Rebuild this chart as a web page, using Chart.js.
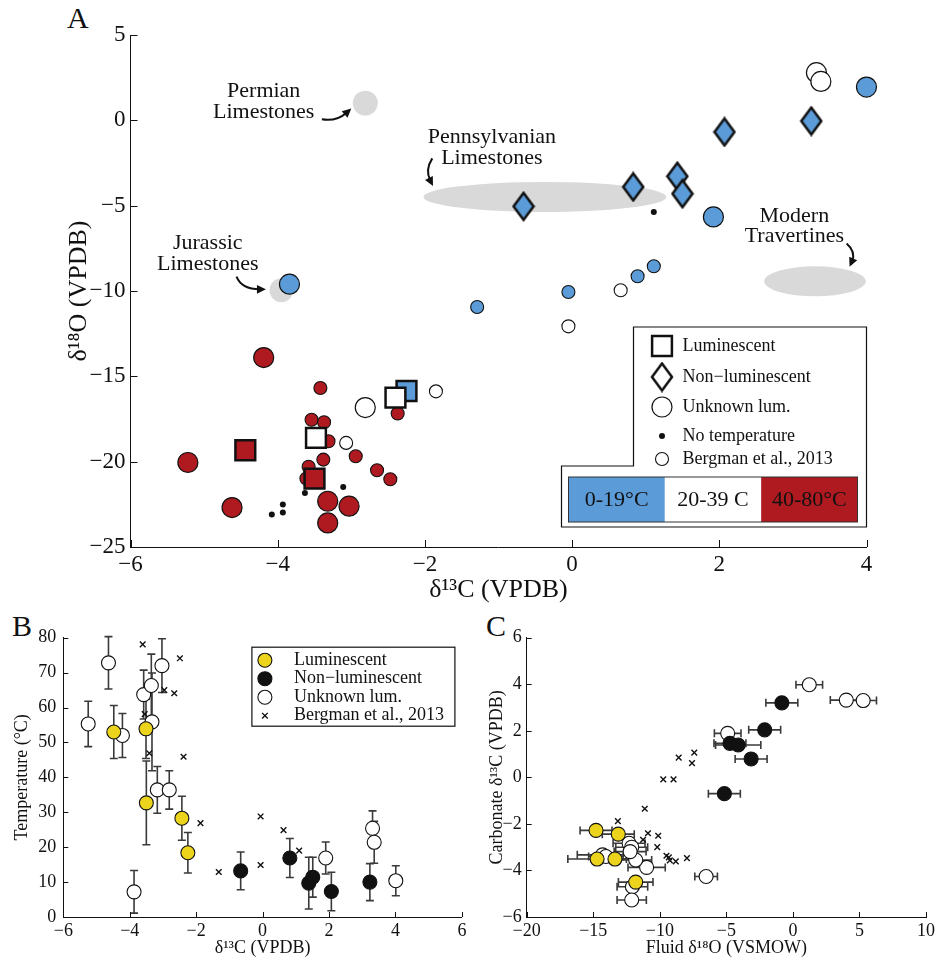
<!DOCTYPE html>
<html>
<head>
<meta charset="utf-8">
<script src="https://cdn.jsdelivr.net/npm/chart.js@4.4.0/dist/chart.umd.min.js"></script>
<style>
body { margin: 0; background: #fff; width: 938px; height: 960px; position: relative; overflow: hidden; font-family: 'Liberation Serif', serif; }
canvas { position: absolute; }
.panel { position: absolute; font-size: 30px; color: #111; line-height: 1; }
</style>
</head>
<body>
<div class="panel" style="left:67px;top:3px">A</div>
<div class="panel" style="left:12px;top:611px">B</div>
<div class="panel" style="left:486px;top:611px">C</div>
<canvas id="chartA" width="938" height="610" style="left:0;top:0"></canvas>
<canvas id="chartB" width="470" height="350" style="left:0;top:610px"></canvas>
<canvas id="chartC" width="468" height="350" style="left:470px;top:610px"></canvas>
<script>
var BLUE = '#5b9bd7', RED = '#ae1a20', YEL = '#ecd41c', GRAY = '#d9d9d9', INK = '#111111';
var SERIF = "'Liberation Serif', 'DejaVu Serif', serif";

// ---- panel A: d13C vs d18O (VPDB), [x, y] ----
var aLumBlue = [[-2.25, -15.86]];
var aLumWhite = [[-2.40, -16.25], [-3.48, -18.61]];
var aLumRed = [[-4.44, -19.33], [-3.50, -20.99]];
var aNonLumBlue = [[-0.66, -5.04], [0.83, -3.90], [1.43, -3.28], [1.50, -4.30], [2.07, -0.68], [3.25, -0.04]];
var aUnkBlue = [[-3.84, -9.60], [1.92, -5.66], [4.00, 1.95]];
var aUnkWhite = [[3.32, 2.79], [3.38, 2.28], [-2.81, -16.83]];
var aUnkRed = [[-4.19, -13.90], [-5.22, -20.05], [-3.32, -22.32], [-3.03, -22.61], [-4.62, -22.69], [-3.32, -23.59]];
var aNoTemp = [[1.11, -5.37], [-3.11, -21.48], [-3.63, -21.83], [-3.93, -22.51], [-3.93, -22.98], [-4.08, -23.10]];
var aBergBlue = [[-1.29, -10.94], [-0.05, -10.06], [0.89, -9.14], [1.11, -8.55]];
var aBergWhite = [[0.66, -9.96], [-0.05, -12.07], [-1.85, -15.88], [-3.07, -18.90]];
var aBergRed = [[-3.42, -15.68], [-2.37, -17.18], [-3.54, -17.54], [-3.37, -17.69], [-3.31, -18.80], [-2.94, -19.68],
  [-3.38, -19.88], [-3.58, -20.30], [-3.61, -20.99], [-2.65, -20.50], [-2.47, -21.03]];
// literature fields: centre x, centre y, half width, half height
var aFields = [[-2.81, 1.01, 0.17, 0.73], [-3.95, -9.96, 0.16, 0.70], [-0.37, -4.49, 1.65, 0.88], [3.30, -9.43, 0.69, 0.88]];
var aFieldNames = [['Permian', 'Limestones'], ['Jurassic', 'Limestones'], ['Pennsylvanian', 'Limestones'], ['Modern', 'Travertines']];
var tempBins = ['0-19\u00b0C', '20-39 C', '40-80\u00b0C'];

// ---- panel B: d13C vs temperature, [x, T, err] ----
var bLum = [[-4.48, 53.0, 7.6], [-3.51, 53.9, 8.5], [-3.50, 32.7, 12.0], [-2.43, 28.3, 6.3], [-2.25, 18.4, 5.8]];
var bNonLum = [[-0.66, 13.2, 5.4], [0.82, 16.9, 5.6], [1.39, 9.7, 7.4], [1.51, 11.4, 5.7], [2.07, 7.3, 5.5], [3.23, 10.0, 5.3]];
var bUnk = [[-5.25, 55.3, 6.5], [-4.64, 72.8, 7.5], [-4.22, 52.0, 6.3], [-3.87, 7.2, 6.1], [-3.58, 63.7, 7.0], [-3.35, 66.3, 9.0],
  [-3.33, 55.9, 14.0], [-3.03, 72.0, 7.7], [-3.17, 36.4, 6.7], [-2.81, 36.4, 5.5], [1.90, 16.9, 4.6], [3.31, 25.4, 5.0],
  [3.36, 21.4, 6.0], [4.01, 10.4, 4.3]];
var bBerg = [[-3.61, 78.1], [-2.49, 74.1], [-2.96, 65.0], [-2.66, 64.1], [-3.55, 58.1], [-3.41, 46.9], [-2.38, 45.9],
  [-1.87, 26.9], [-1.32, 12.9], [-0.06, 28.8], [-0.06, 14.9], [0.63, 24.9], [1.10, 19.0]];

// ---- panel C: fluid d18O (VSMOW) vs carbonate d13C, [x, y, xerr] ----
var cLum = [[-14.79, -2.28, 1.2], [-13.12, -2.44, 1.2], [-14.71, -3.51, 2.2], [-13.37, -3.51, 1.5], [-11.81, -4.50, 1.3]];
var cNonLum = [[-0.83, 3.20, 1.2], [-2.12, 2.04, 1.2], [-4.73, 1.46, 1.2], [-4.11, 1.39, 1.7], [-3.14, 0.79, 1.2], [-5.15, -0.70, 1.2]];
var cUnk = [[1.23, 3.98, 1.0], [4.01, 3.32, 1.2], [5.28, 3.30, 1.0], [-4.90, 1.89, 1.0], [-6.52, -4.26, 0.85], [-10.99, -3.87, 1.4],
  [-11.81, -3.55, 1.2], [-12.31, -2.83, 1.2], [-12.11, -3.00, 1.2], [-12.23, -3.19, 1.2], [-14.30, -3.33, 1.9], [-14.05, -3.40, 1.3],
  [-12.06, -4.70, 1.15], [-12.11, -5.27, 1.1]];
var cBerg = [[-7.41, 1.06], [-8.58, 0.85], [-7.58, 0.61], [-9.74, -0.09], [-8.97, -0.09], [-11.13, -1.35], [-13.15, -1.88],
  [-10.89, -2.40], [-10.12, -2.51], [-11.26, -2.68], [-10.19, -3.00], [-9.50, -3.37], [-9.32, -3.44], [-9.25, -3.57],
  [-8.80, -3.61], [-7.96, -3.47]];

Chart.defaults.font.family = SERIF;
Chart.defaults.color = INK;

function pts(arr) { return arr.map(function (p) { return {x: p[0], y: p[1]}; }); }
function errs(arr) { return arr.map(function (p) { return p[2]; }); }
function minus(v) { return String(v).replace('-', '\u2212'); }

function makeDiamond(fill) {
  var c = document.createElement('canvas');
  c.width = 24; c.height = 31;
  var g = c.getContext('2d');
  g.beginPath();
  g.moveTo(12, 2); g.lineTo(22, 15.5); g.lineTo(12, 29); g.lineTo(2, 15.5); g.closePath();
  g.fillStyle = fill; g.fill();
  g.lineWidth = 2.5; g.strokeStyle = INK; g.stroke();
  return c;
}

function mk(style, radius, fill, bw) {
  return {pointStyle: style, pointRadius: radius, pointBackgroundColor: fill, pointBorderColor: INK,
    pointBorderWidth: bw, clip: false};
}
function ds(label, arr, st) { return Object.assign({label: label, data: pts(arr)}, st); }

function drawMark(ctx, st, x, y) {
  ctx.save();
  ctx.fillStyle = st.pointBackgroundColor;
  ctx.strokeStyle = st.pointBorderColor;
  ctx.lineWidth = st.pointBorderWidth;
  Chart.helpers.drawPoint(ctx, {pointStyle: st.pointStyle, radius: st.pointRadius, borderWidth: st.pointBorderWidth, rotation: 0}, x, y);
  ctx.restore();
}

// inward tick marks
var inTicks = {
  id: 'inTicks',
  afterDatasetsDraw: function (chart, args, opts) {
    var ctx = chart.ctx, a = chart.chartArea, sx = chart.scales.x, sy = chart.scales.y, L = opts.len || 6;
    ctx.save();
    ctx.strokeStyle = INK; ctx.lineWidth = 1;
    sx.ticks.forEach(function (t) {
      var p = Math.round(sx.getPixelForValue(t.value)) + 0.5;
      ctx.beginPath(); ctx.moveTo(p, a.bottom); ctx.lineTo(p, a.bottom - L); ctx.stroke();
    });
    sy.ticks.forEach(function (t) {
      var p = Math.round(sy.getPixelForValue(t.value)) + 0.5;
      ctx.beginPath(); ctx.moveTo(a.left, p); ctx.lineTo(a.left + L, p); ctx.stroke();
    });
    ctx.restore();
  }
};

// error bars with caps (dataset.errs, dataset.errDir)
var errBars = {
  id: 'errBars',
  beforeDatasetsDraw: function (chart) {
    var ctx = chart.ctx, sx = chart.scales.x, sy = chart.scales.y;
    ctx.save();
    ctx.strokeStyle = '#3a3a3a'; ctx.lineWidth = 1.6;
    chart.data.datasets.forEach(function (d) {
      if (!d.errs) return;
      d.data.forEach(function (p, i) {
        var e = d.errs[i];
        ctx.beginPath();
        if (d.errDir === 'y') {
          var x = sx.getPixelForValue(p.x), y1 = sy.getPixelForValue(p.y - e), y2 = sy.getPixelForValue(p.y + e);
          ctx.moveTo(x, y1); ctx.lineTo(x, y2);
          ctx.moveTo(x - 4, y1); ctx.lineTo(x + 4, y1);
          ctx.moveTo(x - 4, y2); ctx.lineTo(x + 4, y2);
        } else {
          var y = sy.getPixelForValue(p.y), x1 = sx.getPixelForValue(p.x - e), x2 = sx.getPixelForValue(p.x + e);
          ctx.moveTo(x1, y); ctx.lineTo(x2, y);
          ctx.moveTo(x1, y - 4); ctx.lineTo(x1, y + 4);
          ctx.moveTo(x2, y - 4); ctx.lineTo(x2, y + 4);
        }
        ctx.stroke();
      });
    });
    ctx.restore();
  }
};

// panel A: grey literature fields with labels and arrows
var notesA = [
  {text: [-4.19, 1.68], arrow: [[-3.40, 0.06], [-3.20, -0.08], [-3.00, 0.70]]},
  {text: [-4.95, -7.21], arrow: [[-4.56, -9.16], [-4.49, -9.90], [-4.16, -9.90]]},
  {text: [-1.09, -1.00], arrow: [[-1.90, -2.23], [-2.00, -2.91], [-1.89, -3.85]]},
  {text: [3.02, -5.59], arrow: [[3.73, -7.21], [3.86, -7.70], [3.77, -8.58]]}
];
var fieldsA = {
  id: 'fieldsA',
  beforeDatasetsDraw: function (chart) {
    var ctx = chart.ctx, sx = chart.scales.x, sy = chart.scales.y;
    ctx.save();
    ctx.fillStyle = GRAY;
    aFields.forEach(function (f) {
      var cx = sx.getPixelForValue(f[0]), cy = sy.getPixelForValue(f[1]);
      var rx = Math.abs(sx.getPixelForValue(f[0] + f[2]) - cx), ry = Math.abs(sy.getPixelForValue(f[1] + f[3]) - cy);
      ctx.beginPath(); ctx.ellipse(cx, cy, rx, ry, 0, 0, Math.PI * 2); ctx.fill();
    });
    ctx.fillStyle = INK; ctx.strokeStyle = INK;
    ctx.font = '22px ' + SERIF; ctx.textAlign = 'center'; ctx.textBaseline = 'middle';
    notesA.forEach(function (n, i) {
      var tx = sx.getPixelForValue(n.text[0]), ty = sy.getPixelForValue(n.text[1]);
      aFieldNames[i].forEach(function (s, k) { ctx.fillText(s, tx, ty + k * 20.5); });
      var p = n.arrow.map(function (q) { return [sx.getPixelForValue(q[0]), sy.getPixelForValue(q[1])]; });
      var ang = Math.atan2(p[2][1] - p[1][1], p[2][0] - p[1][0]);
      var hx = p[2][0] - 6 * Math.cos(ang), hy = p[2][1] - 6 * Math.sin(ang);
      ctx.lineWidth = 2;
      ctx.beginPath(); ctx.moveTo(p[0][0], p[0][1]); ctx.quadraticCurveTo(p[1][0], p[1][1], hx, hy); ctx.stroke();
      ctx.beginPath();
      ctx.moveTo(p[2][0], p[2][1]);
      ctx.lineTo(p[2][0] - 10 * Math.cos(ang - 0.45), p[2][1] - 10 * Math.sin(ang - 0.45));
      ctx.lineTo(p[2][0] - 10 * Math.cos(ang + 0.45), p[2][1] - 10 * Math.sin(ang + 0.45));
      ctx.closePath(); ctx.fill();
    });
    ctx.restore();
  }
};

var sqSt = function (fill) { return mk('rect', 14, fill, 2.5); };
var dmSt = function (fill) { return mk(makeDiamond(fill), 10, fill, 2.5); };
var bigSt = function (fill) { return mk('circle', 10, fill, 1.2); };
var smSt = function (fill) { return mk('circle', 6.5, fill, 1.1); };
var dotSt = mk('circle', 3, INK, 0);

var legendRowsA = [
  ['Luminescent', sqSt('#fff')],
  ['Non\u2212luminescent', dmSt('#fff')],
  ['Unknown lum.', bigSt('#fff')],
  ['No temperature', dotSt],
  ['Bergman et al., 2013', smSt('#fff')]
];
var legendA = {
  id: 'legendA',
  afterDatasetsDraw: function (chart) {
    var ctx = chart.ctx, a = chart.chartArea, r = a.right, b = a.bottom;
    ctx.save();
    ctx.beginPath();
    ctx.moveTo(r - 233, b - 220); ctx.lineTo(r, b - 220); ctx.lineTo(r, b - 20);
    ctx.lineTo(r - 305, b - 20); ctx.lineTo(r - 305, b - 81); ctx.lineTo(r - 233, b - 81); ctx.closePath();
    ctx.fillStyle = '#fff'; ctx.fill();
    ctx.strokeStyle = INK; ctx.lineWidth = 1.2; ctx.stroke();
    var rowY = [201, 170, 140, 111, 88];
    ctx.font = '18px ' + SERIF; ctx.textBaseline = 'middle'; ctx.textAlign = 'left';
    legendRowsA.forEach(function (row, i) {
      drawMark(ctx, row[1], r - 204.5, b - rowY[i]);
      ctx.fillStyle = INK; ctx.fillText(row[0], r - 184, b - rowY[i]);
    });
    var x0 = r - 298, x1 = r - 9, w = (x1 - x0) / 3, y0 = b - 70, y1 = b - 25;
    var cols = [BLUE, '#fff', RED];
    ctx.font = '22px ' + SERIF; ctx.textAlign = 'center';
    tempBins.forEach(function (lab, i) {
      ctx.fillStyle = cols[i]; ctx.fillRect(x0 + i * w, y0, w, y1 - y0);
      ctx.fillStyle = INK; ctx.fillText(lab, x0 + i * w + w / 2, (y0 + y1) / 2 + 1);
    });
    ctx.strokeStyle = '#333'; ctx.lineWidth = 1; ctx.strokeRect(x0, y0, x1 - x0, y1 - y0);
    ctx.restore();
  }
};

// boxed legend for panels B
var legendB = {
  id: 'legendB',
  afterDatasetsDraw: function (chart) {
    var ctx = chart.ctx, a = chart.chartArea, sets = chart.data.datasets;
    var bx = a.right - 210, by = a.top + 9.5, bw = 203, bh = 79;
    ctx.save();
    ctx.fillStyle = '#fff'; ctx.fillRect(bx, by, bw, bh);
    ctx.strokeStyle = INK; ctx.lineWidth = 1.2; ctx.strokeRect(bx, by, bw, bh);
    ctx.font = '18px ' + SERIF; ctx.textBaseline = 'middle'; ctx.textAlign = 'left';
    var order = [1, 2, 3, 0], rowY = [13, 31.5, 50, 68.5];
    order.forEach(function (k, i) {
      drawMark(ctx, sets[k], bx + 13, by + rowY[i]);
      ctx.fillStyle = INK; ctx.fillText(sets[k].label, bx + 42, by + rowY[i]);
    });
    ctx.restore();
  }
};

function axis(min, max, step, size, pad, title, tsize, tpad, fit) {
  return {
    type: 'linear', min: min, max: max,
    ticks: {stepSize: step, font: {size: size}, color: INK, padding: pad, callback: minus},
    grid: {display: false, drawTicks: false},
    border: {display: true, color: INK, width: 1},
    title: {display: true, text: title, font: {size: tsize}, color: INK, padding: tpad},
    afterFit: fit
  };
}
function baseOpts(padding, x, y, plug) {
  return {
    responsive: false, animation: false, events: [],
    layout: {padding: padding},
    scales: {x: x, y: y},
    plugins: Object.assign({legend: {display: false}, tooltip: {enabled: false}}, plug)
  };
}

new Chart(document.getElementById('chartA'), {
  type: 'scatter',
  data: {
    datasets: [
      ds('Luminescent 20-39', aLumWhite, sqSt('#fff')),
      ds('Luminescent 0-19', aLumBlue, sqSt(BLUE)),
      ds('Luminescent 40-80', aLumRed, sqSt(RED)),
      ds('Non-luminescent 0-19', aNonLumBlue, dmSt(BLUE)),
      ds('No temperature', aNoTemp, dotSt),
      ds('Unknown lum. 20-39', aUnkWhite, bigSt('#fff')),
      ds('Unknown lum. 0-19', aUnkBlue, bigSt(BLUE)),
      ds('Unknown lum. 40-80', aUnkRed, bigSt(RED)),
      ds('Bergman 20-39', aBergWhite, smSt('#fff')),
      ds('Bergman 0-19', aBergBlue, smSt(BLUE)),
      ds('Bergman 40-80', aBergRed, smSt(RED))
    ]
  },
  options: baseOpts({top: 35, right: 71.5, left: 0, bottom: 0},
    axis(-6, 4, 2, 23, 4, '\u03b4\u00b9\u00b3C (VPDB)', 26, {top: 0, bottom: 4}, function (s) { s.height = 63; }),
    axis(-25, 5, 5, 23, 5, '\u03b4\u00b9\u2078O (VPDB)', 26, {top: 64, bottom: 0}, function (s) { s.width = 130.5; }),
    {inTicks: {len: 7}}),
  plugins: [fieldsA, inTicks, legendA]
});

function setB(label, arr, fill, dir) {
  return Object.assign(ds(label, arr, mk('circle', 7, fill, 1.1)), {errs: errs(arr), errDir: dir});
}
var crossSt = mk('crossRot', 4, INK, 1.4);

new Chart(document.getElementById('chartB'), {
  type: 'scatter',
  data: {
    datasets: [
      ds('Bergman et al., 2013', bBerg, crossSt),
      setB('Luminescent', bLum, YEL, 'y'),
      setB('Non\u2212luminescent', bNonLum, INK, 'y'),
      setB('Unknown lum.', bUnk, '#fff', 'y')
    ]
  },
  options: baseOpts({top: 27.7, right: 5, left: 0, bottom: 0},
    axis(-6, 6, 2, 18, 3, '\u03b4\u00b9\u00b3C (VPDB)', 18, {top: 0, bottom: 1}, function (s) { s.height = 43; }),
    axis(0, 80, 10, 18, 7, 'Temperature (\u00b0C)', 18, {top: 11, bottom: 0}, function (s) { s.width = 63.3; }),
    {inTicks: {len: 5}}),
  plugins: [errBars, inTicks, legendB]
});

new Chart(document.getElementById('chartC'), {
  type: 'scatter',
  data: {
    datasets: [
      ds('Bergman et al., 2013', cBerg, crossSt),
      setB('Luminescent', cLum, YEL, 'x'),
      setB('Non\u2212luminescent', cNonLum, INK, 'x'),
      setB('Unknown lum.', cUnk, '#fff', 'x')
    ]
  },
  options: baseOpts({top: 27.7, right: 9, left: 0, bottom: 0},
    axis(-20, 10, 5, 18, 3, 'Fluid \u03b4\u00b9\u2078O (VSMOW)', 18, {top: 0, bottom: 1}, function (s) { s.height = 43; }),
    axis(-6, 6, 2, 18, 5, 'Carbonate \u03b4\u00b9\u00b3C (VPDB)', 18, {top: 16, bottom: 0}, function (s) { s.width = 56.7; }),
    {inTicks: {len: 5}}),
  plugins: [errBars, inTicks]
});
</script>
</body>
</html>
